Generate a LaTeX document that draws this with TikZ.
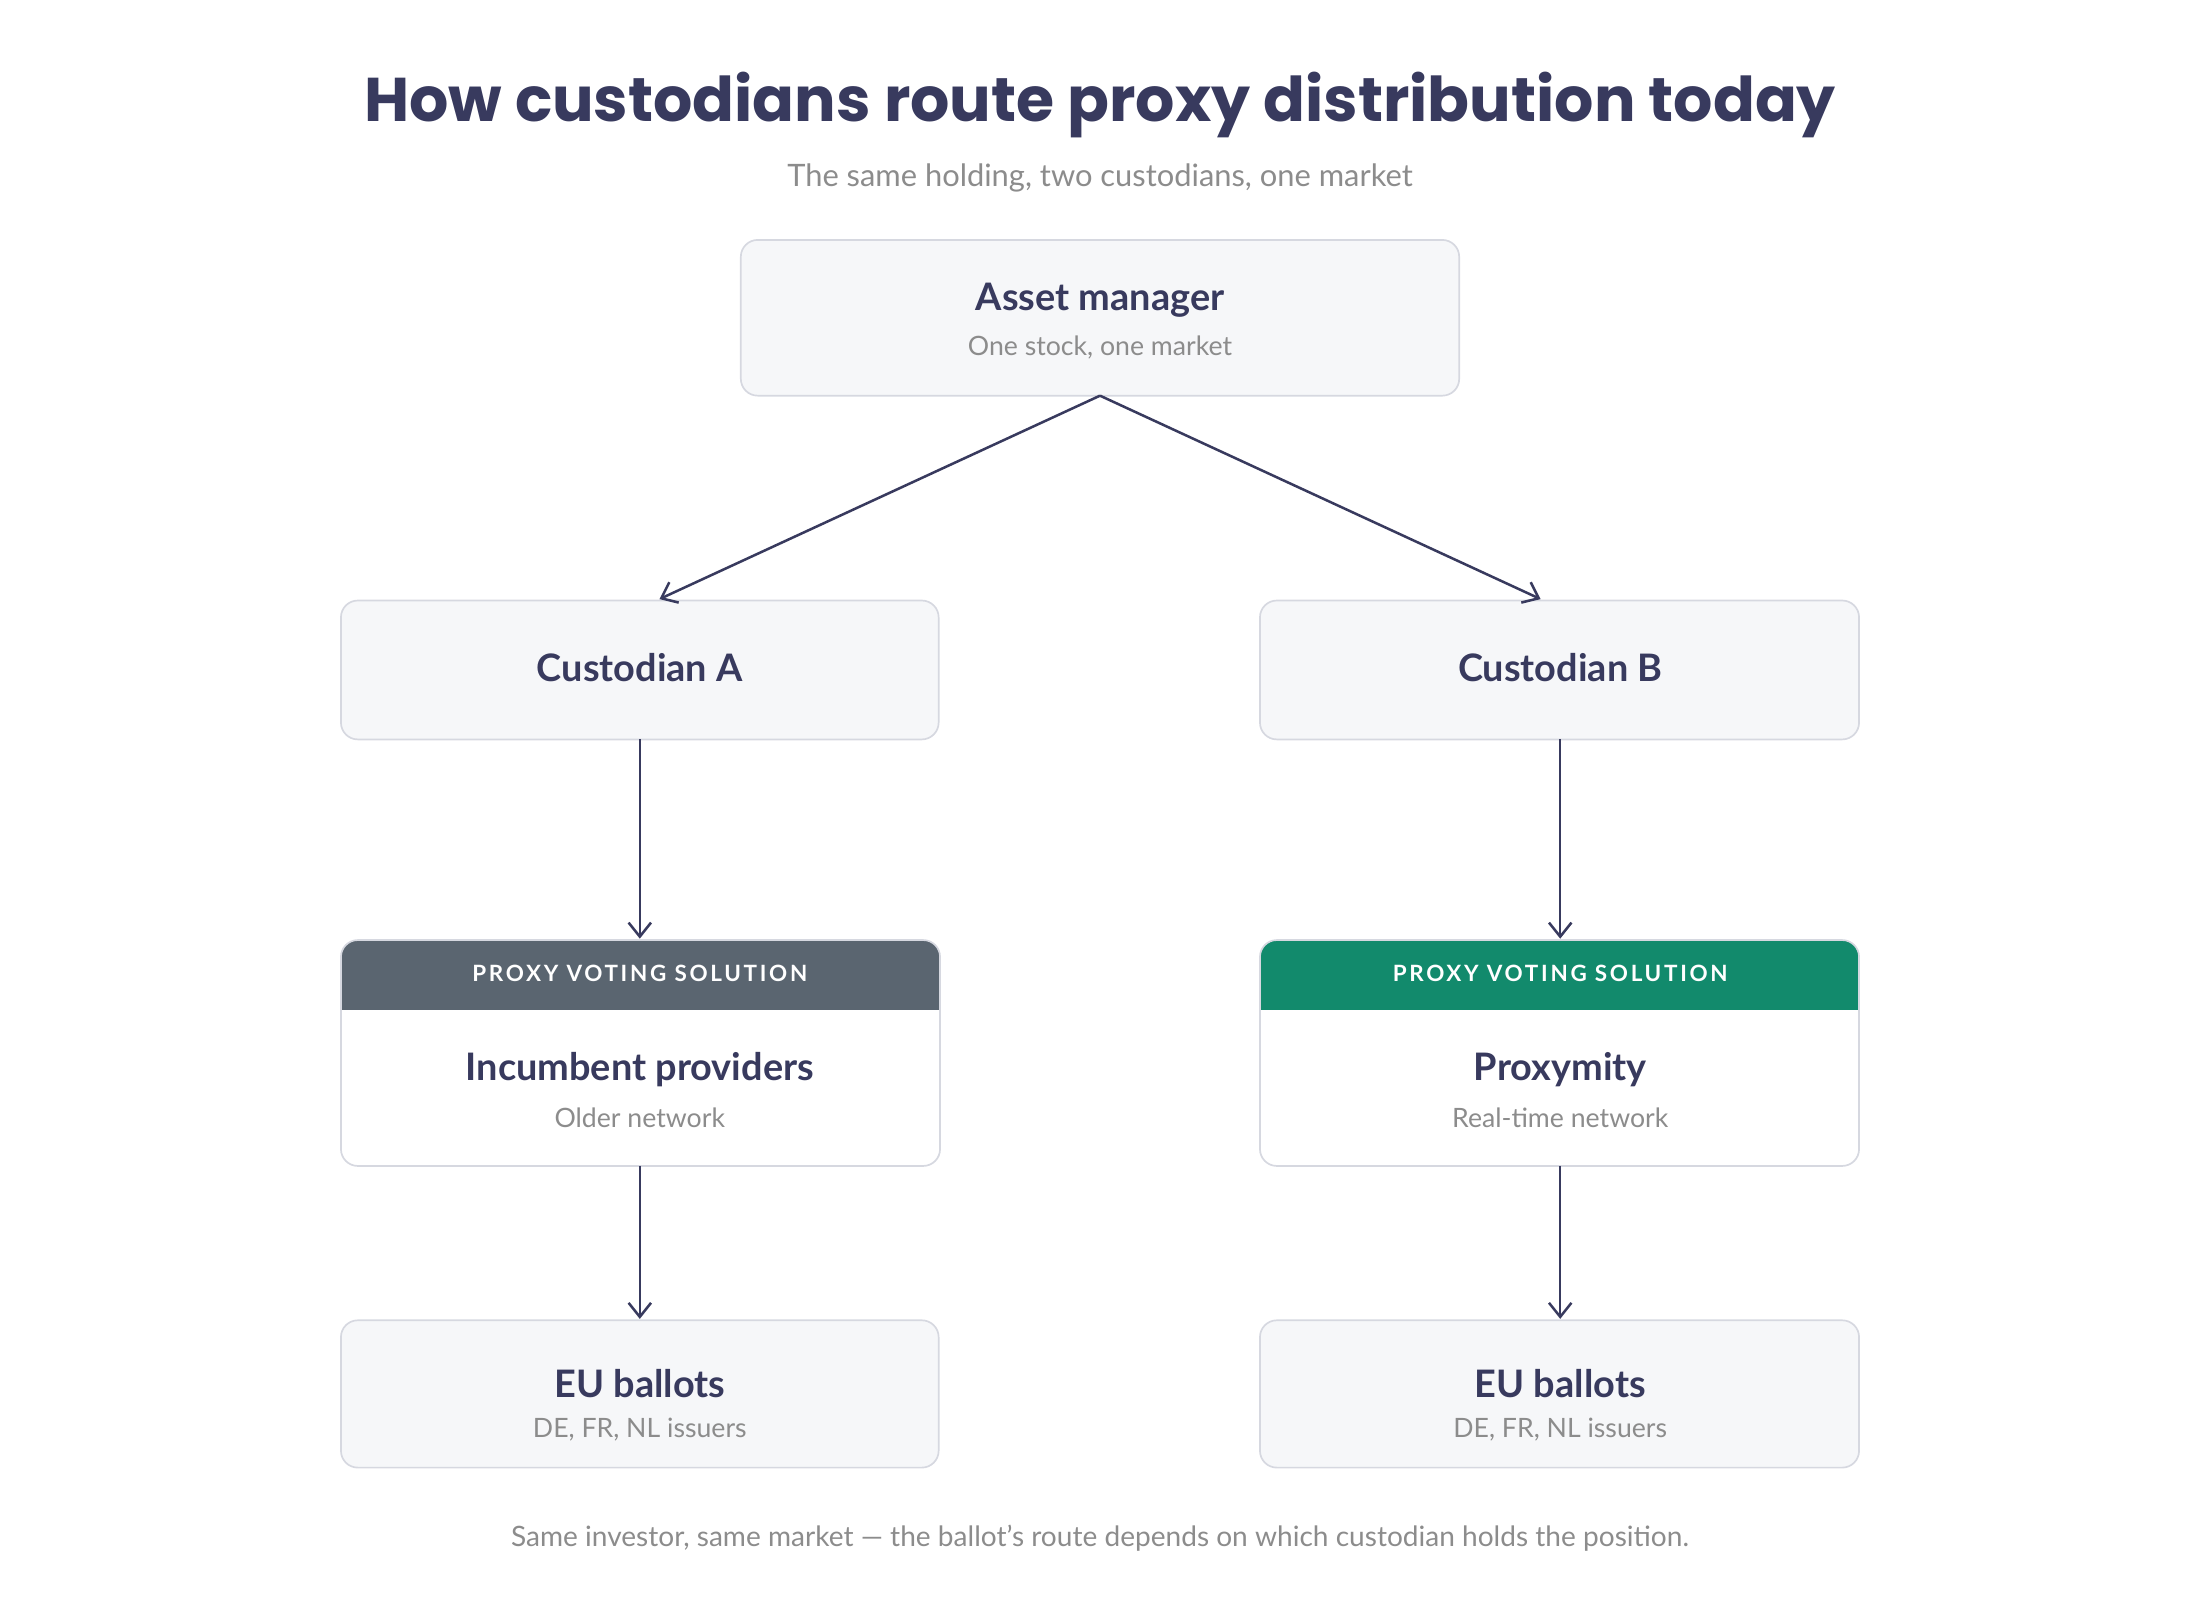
\documentclass[tikz,border=0pt]{standalone}
\usepackage{fontspec}
\setmainfont{Lato}
\newfontfamily\titlefont{Poppins}
\newfontfamily\capsfont[LetterSpace=12]{Lato}
\usetikzlibrary{arrows.meta}
\definecolor{navy}{HTML}{383A5E}
\definecolor{gtext}{HTML}{8C8C8C}
\definecolor{boxfill}{HTML}{F6F7F9}
\definecolor{boxline}{HTML}{D6D8E0}
\definecolor{hdgrey}{HTML}{5A6570}
\definecolor{hdgreen}{HTML}{128A6C}
\tikzset{
  x=0.5pt,y=-0.5pt,
  card/.style={draw=boxline,line width=0.6pt,fill=boxfill,rounded corners=6pt},
  ttl/.style={text=navy,font=\bfseries\fontsize{13.5}{16}\selectfont},
  sub/.style={text=gtext,font=\fontsize{9.5}{12}\selectfont},
  hdr/.style={text=white,font=\capsfont\bfseries\fontsize{8}{10}\selectfont},
  arr/.style={draw=navy,line width=0.9pt,-{Straight Barb[length=5pt,width=8pt]}}
}
\begin{document}
\begin{tikzpicture}
\useasboundingbox (0,0) rectangle (1568,1140);
\node[text=navy,font=\titlefont\bfseries\fontsize{22}{26}\selectfont] (title) at (784,75) {How custodians route proxy distribution today};
\node[sub,font=\fontsize{11}{13}\selectfont] (subt) at (784,127) {The same holding, two custodians, one market};
% asset manager
\path[card] (528,171) rectangle (1040,282);
\coordinate (am) at (784,282);
\node[ttl] (amt) at (784,214) {Asset manager};
\node[sub] (ams) at (784,248) {One stock, one market};
% custodians
\path[card] (243,428) rectangle (669,527);
\path[card] (898,428) rectangle (1325,527);
\node[ttl] (ca) at (456,476) {Custodian A};
\node[ttl] (cb) at (1112,476) {Custodian B};
\coordinate (caT) at (470,427); \coordinate (cbT) at (1098,427);
\coordinate (caB) at (456,527); \coordinate (cbB) at (1112,527);
% proxy boxes
\foreach \x/\c in {243/hdgrey,898/hdgreen}{
  \begin{scope}
    \clip[rounded corners=6pt] (\x,670) rectangle (\x+427,831);
    \fill[white] (\x,670) rectangle (\x+427,831);
    \fill[\c] (\x,670) rectangle (\x+427,720);
  \end{scope}
  \draw[boxline,line width=0.6pt,rounded corners=6pt] (\x,670) rectangle (\x+427,831);
}
\node[hdr] (ha) at (456,694) {PROXY VOTING SOLUTION};
\node[hdr] (hb) at (1112,694) {PROXY VOTING SOLUTION};
\node[ttl] (ip) at (456,762) {Incumbent providers};
\node[sub] (ips) at (456,797) {Older network};
\node[ttl] (px) at (1112,762) {Proxymity};
\node[sub] (pxs) at (1112,797) {Real-time network};
\coordinate (paT) at (456,669); \coordinate (pbT) at (1112,669);
\coordinate (paB) at (456,831); \coordinate (pbB) at (1112,831);
% ballots
\path[card] (243,941) rectangle (669,1046);
\path[card] (898,941) rectangle (1325,1046);
\node[ttl] (ea) at (456,986) {EU ballots};
\node[sub] (eas) at (456,1019) {DE, FR, NL issuers};
\node[ttl] (eb) at (1112,986) {EU ballots};
\node[sub] (ebs) at (1112,1019) {DE, FR, NL issuers};
\coordinate (eaT) at (456,940); \coordinate (ebT) at (1112,940);
% arrows
\draw[arr] (am) -- (caT);
\draw[arr] (am) -- (cbT);
\draw[arr] (caB) -- (paT);
\draw[arr] (cbB) -- (pbT);
\draw[arr] (paB) -- (eaT);
\draw[arr] (pbB) -- (ebT);
\node[sub,font=\fontsize{10}{12}\selectfont] (foot) at (784,1096) {Same investor, same market — the ballot's route depends on which custodian holds the position.};
\end{tikzpicture}
\end{document}
